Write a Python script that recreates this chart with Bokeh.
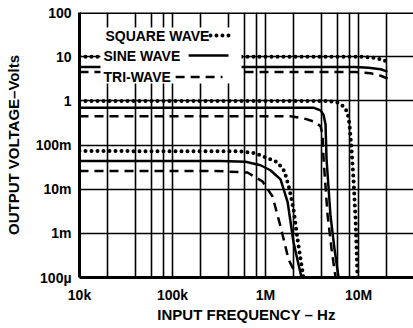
from bokeh.plotting import figure
from bokeh.models import Range1d, FixedTicker, BoxAnnotation, Label, Span, Arrow
from bokeh.embed import file_html
from bokeh.resources import INLINE

# ---- data ----
# frequencies in Hz, output voltages in V
sq10_f = [1.0e4, 1.05e7, 1.45e7, 1.77e7, 2.05e7]
sq10_v = [10.0, 10.0, 9.4, 8.7, 7.6]
si10_f = [1.0e4, 9.3e6, 1.28e7, 1.73e7, 2.05e7]
si10_v = [5.8, 5.8, 5.6, 5.2, 4.6]
tr10_f = [1.0e4, 9.3e6, 1.35e7, 1.73e7, 2.05e7]
tr10_v = [4.5, 4.5, 4.2, 3.7, 3.2]

sq1_f = [1.0e4, 4.64e6, 5.94e6, 6.9e6, 7.62e6, 8.0e6, 8.41e6, 8.83e6, 9.29e6, 9.75e6]
sq1_v = [0.99, 0.99, 0.92, 0.75, 0.55, 0.29, 0.08, 0.0167, 0.0021, 1.0e-4]
si1_f = [1.0e4, 3.28e6, 3.9e6, 4.21e6, 4.42e6, 4.53e6, 5.0e6, 5.52e6, 6.1e6]
si1_v = [0.70, 0.70, 0.61, 0.48, 0.29, 0.0475, 0.00244, 4.4e-4, 1.0e-4]
tr1_f = [1.0e4, 1.86e6, 2.69e6, 3.45e6, 3.9e6, 4.1e6, 4.21e6, 4.64e6, 5.13e6, 5.66e6]
tr1_v = [0.45, 0.45, 0.39, 0.33, 0.265, 0.175, 0.0475, 0.0027, 4.4e-4, 1.0e-4]

sq01_f = [1.0e4, 5.38e5, 7.8e5, 1.0e6, 1.35e6, 1.6e6, 1.81e6, 2.0e6, 2.21e6, 2.38e6, 2.56e6]
sq01_v = [0.073, 0.072, 0.065, 0.0526, 0.0406, 0.0254, 0.00995, 0.0035, 7.4e-4, 2.6e-4, 1.0e-4]
si01_f = [1.0e4, 3.28e5, 6.1e5, 8.83e5, 1.13e6, 1.45e6, 1.73e6, 2.0e6, 2.26e6, 2.44e6]
si01_v = [0.0435, 0.0435, 0.0417, 0.0348, 0.0268, 0.0167, 0.00506, 6.3e-4, 2.0e-4, 1.0e-4]
tr01_f = [1.0e4, 2.9e5, 6.4e5, 9.29e5, 1.19e6, 1.45e6, 1.77e6, 1.95e6, 2.1e6]
tr01_v = [0.0258, 0.0258, 0.0238, 0.0149, 0.0068, 0.00143, 2.56e-4, 1.69e-4, 1.38e-4]

x_ticks = [1e4, 1e5, 1e6, 1e7]
x_labels = ["10k", "100k", "1M", "10M"]
y_ticks = [1e-4, 1e-3, 1e-2, 1e-1, 1, 10, 100]
y_labels = ["100\u00b5", "1m", "10m", "100m", "1", "10", "100"]
x_grid = [2e4, 4e4, 6e4, 8e4, 1e5, 2e5, 4e5, 6e5, 8e5, 1e6,
          2e6, 4e6, 6e6, 8e6, 1e7, 2e7]

legend_names = ["SQUARE WAVE", "SINE WAVE", "TRI-WAVE"]
x_title = "INPUT FREQUENCY \u2013 Hz"
y_title = "OUTPUT VOLTAGE\u2013Volts"

FONT = "Liberation Sans"

p = figure(width=413, height=328, x_axis_type="log", y_axis_type="log",
           x_range=Range1d(1e4, 3.9e7), y_range=Range1d(1e-4, 100),
           output_backend="svg", toolbar_location=None,
           min_border_left=79, min_border_right=0, min_border_top=12,
           min_border_bottom=51)
p.outline_line_color = None
p.background_fill_color = "white"
p.border_fill_color = "white"

for ax in (p.xaxis[0], p.yaxis[0]):
    ax.axis_line_width = 3
    ax.axis_line_color = "black"
    ax.major_tick_line_color = None
    ax.minor_tick_line_color = None
    ax.major_tick_out = 0
    ax.major_tick_in = 0
    ax.minor_tick_out = 0
    ax.minor_tick_in = 0
    ax.major_label_text_font = FONT
    ax.major_label_text_font_style = "bold"
    ax.major_label_text_font_size = "14px"
    ax.major_label_text_color = "black"
    ax.axis_label_text_font = FONT
    ax.axis_label_text_font_style = "bold"
    ax.axis_label_text_font_size = "15px"
    ax.axis_label_text_color = "black"

p.xaxis.ticker = FixedTicker(ticks=x_ticks, minor_ticks=[])
p.xaxis.major_label_overrides = dict(zip(x_ticks, x_labels))
p.xaxis.major_label_standoff = 9
p.xaxis.axis_label = x_title
p.xaxis.axis_label_standoff = 0

p.yaxis.ticker = FixedTicker(ticks=y_ticks, minor_ticks=[])
p.yaxis.major_label_overrides = dict(zip(y_ticks, y_labels))
p.yaxis.major_label_standoff = 8
p.yaxis.axis_label = y_title
p.yaxis.axis_label_standoff = 11

p.xgrid.ticker = FixedTicker(ticks=x_grid, minor_ticks=[])
p.ygrid.ticker = FixedTicker(ticks=y_ticks, minor_ticks=[])
for g in (p.xgrid[0], p.ygrid[0]):
    g.grid_line_color = "black"
    g.grid_line_width = 1.6
    g.grid_line_alpha = 1.0

p.add_layout(Span(location=100, dimension="width", line_color="black", line_width=3))

DOT = dict(line_color="black", line_width=4, line_dash="0 6", line_cap="round")
SOLID = dict(line_color="black", line_width=2.5)
DASH = dict(line_color="black", line_width=2.5, line_dash="9 6")

for f, v in ((sq10_f, sq10_v), (sq1_f, sq1_v), (sq01_f, sq01_v)):
    p.line(f, v, **DOT)
for f, v in ((si10_f, si10_v), (si1_f, si1_v), (si01_f, si01_v)):
    p.line(f, v, **SOLID)
for f, v in ((tr10_f, tr10_v), (tr1_f, tr1_v), (tr01_f, tr01_v)):
    p.line(f, v, **DASH)

# legend (text followed by line sample, on a white box)
p.add_layout(BoxAnnotation(left=1.68e4, right=5.52e5, bottom=2.47, top=45.7,
                           fill_color="white", fill_alpha=1.0, line_color=None))
leg_text_pos = [(1.90e4, 30.1), (1.81e4, 10.3), (1.81e4, 3.43)]
leg_line_pos = [(2.56e5, 4.53e5, 30.1), (1.49e5, 4.0e5, 10.6), (1.08e5, 3.45e5, 3.46)]
styles = [DOT, SOLID, DASH]
for name, (tx, ty), (x0, x1, ly), st in zip(legend_names, leg_text_pos, leg_line_pos, styles):
    p.add_layout(Label(x=tx, y=ty, text=name, text_font=FONT, text_font_style="bold",
                       text_font_size="14px", text_baseline="middle", text_align="left",
                       text_color="black"))
    p.add_layout(Arrow(end=None, x_start=x0, y_start=ly, x_end=x1, y_end=ly, **st))

open("out.html", "w").write(file_html(p, INLINE))
